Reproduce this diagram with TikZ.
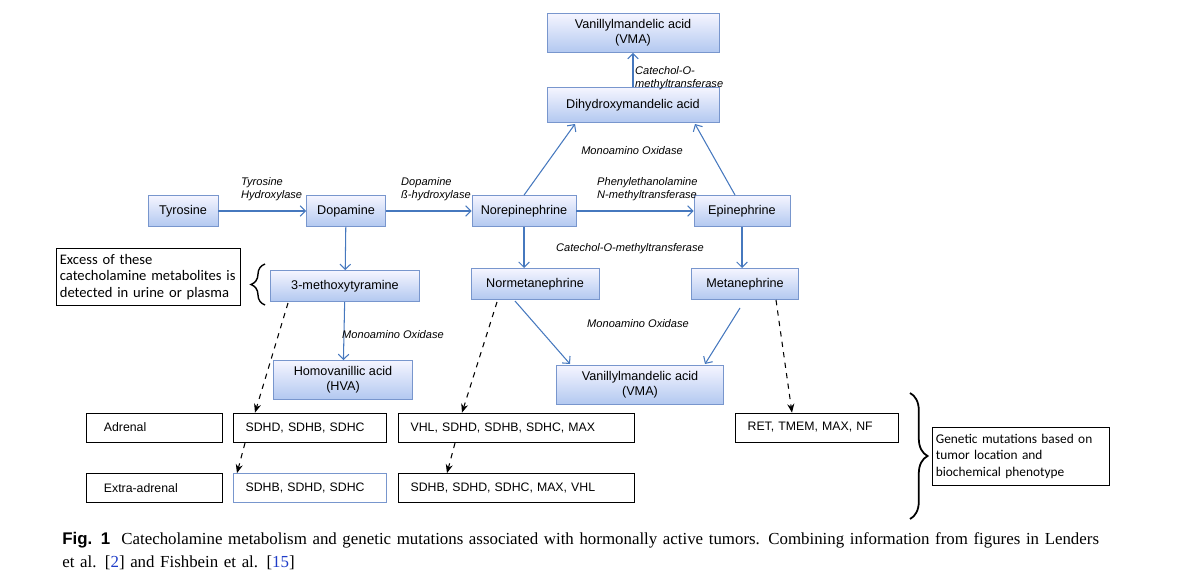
\documentclass[tikz,border=0pt]{standalone}
\usepackage{fontspec}
\setmainfont{Liberation Sans}
\newfontfamily\capf{Liberation Serif}
\newfontfamily\calf{Carlito}
\usetikzlibrary{arrows.meta,decorations.pathreplacing}
\definecolor{bord}{RGB}{120,150,205}
\definecolor{arr}{RGB}{70,120,190}
\definecolor{refb}{RGB}{30,60,200}
\begin{document}
\begin{tikzpicture}[x=0.02cm,y=-0.02cm,
 bx/.style={draw=bord,top color=blue!4,bottom color={rgb,255:red,178;green,200;blue,240},minimum height=0.62cm,font=\fontsize{7.2}{8.5}\selectfont,align=center,inner sep=1pt},
 wb/.style={draw=black,fill=white,minimum height=0.58cm,font=\fontsize{7}{8}\selectfont,anchor=west,inner xsep=0pt,inner ysep=1pt,text width=#1,align=left},
 ar/.style={draw=arr,-{Straight Barb[length=3pt,width=6pt]},line width=0.6pt},
 da/.style={dashed,-{Stealth[length=5pt,width=4pt]},line width=0.6pt},
 lb/.style={font=\fontsize{6.3}{7.3}\selectfont\itshape,align=left}]
\useasboundingbox (0,0) rectangle (1200,581);
\node[bx,minimum width=3.44cm,minimum height=0.78cm] (vma) at (633,33) {Vanillylmandelic acid\\(VMA)};
\node[bx,minimum width=3.44cm,minimum height=0.7cm] (dhm) at (633,105) {Dihydroxymandelic acid};
\node[bx,minimum width=1.4cm] (tyr) at (183,211) {Tyrosine};
\node[bx,minimum width=1.58cm] (dop) at (346,211) {Dopamine};
\node[bx,minimum width=2.08cm] (nor) at (524,211) {Norepinephrine};
\node[bx,minimum width=1.92cm] (epi) at (742,211) {Epinephrine};
\node[bx,minimum width=2.98cm] (mt) at (345,286) {3-methoxytyramine};
\node[bx,minimum width=2.56cm] (nmt) at (535,284) {Normetanephrine};
\node[bx,minimum width=2.14cm] (met) at (745,284) {Metanephrine};
\node[bx,minimum width=2.78cm,minimum height=0.78cm] (hva) at (343,380) {Homovanillic acid\\(HVA)};
\node[bx,minimum width=3.34cm,minimum height=0.78cm] (vma2) at (640,385) {Vanillylmandelic acid\\(VMA)};
\draw[ar] (tyr) -- (dop);
\draw[ar] (dop) -- (nor);
\draw[ar] (nor) -- (epi);
\draw[ar] (dhm) -- (vma);
\draw[ar] (nor.north) -- (575,124);
\draw[ar] (735,195) -- (695,124);
\draw[ar] (dop) -- (mt);
\draw[ar] (nor.south) -- (524,268);
\draw[ar] (epi) -- (742,268);
\draw[ar] (mt) -- (hva);
\draw[ar] (515,301) -- (570,364);
\draw[ar] (740,308) -- (705,364);
\node[lb,anchor=south west] at (235,207) {Tyrosine\\Hydroxylase};
\node[lb,anchor=south west] at (395,207) {Dopamine\\ß-hydroxylase};
\node[lb,anchor=south west] at (591,207) {Phenylethanolamine\\N-methyltransferase};
\node[lb,anchor=west] at (629,78) {Catechol-O-\\methyltransferase};
\node[lb] at (632,151) {Monoamino Oxidase};
\node[lb] at (630,249) {Catechol-O-methyltransferase};
\node[lb] at (393,335) {Monoamino Oxidase};
\node[lb] at (638,324) {Monoamino Oxidase};
\node[draw=black,fill=white,minimum width=3.68cm,minimum height=1.14cm,font=\calf\fontsize{8.3}{9.5}\selectfont,align=left,anchor=north west,inner sep=2pt,text width=3.55cm] (ex) at (56,248) {Excess of these\\catecholamine metabolites is\\detected in urine or plasma};
\draw[line width=0.8pt,decorate,decoration={brace,amplitude=8pt}] (265,305) -- (265,264);
\node[wb=2.72cm] (adr) at (86,427.5) {\hspace{10pt}Adrenal};
\node[wb=2.72cm] (ext) at (86,488) {\hspace{10pt}Extra-adrenal};
\node[wb=3.06cm] (s1) at (233,427.5) {\hspace{7pt}SDHD, SDHB, SDHC};
\node[wb=3.06cm,draw=bord] (s2) at (233,488) {\hspace{7pt}SDHB, SDHD, SDHC};
\node[wb=4.72cm] (v1) at (398,427.5) {\hspace{7pt}VHL, SDHD, SDHB, SDHC, MAX};
\node[wb=4.72cm] (v2) at (398,488) {\hspace{7pt}SDHB, SDHD, SDHC, MAX, VHL};
\node[wb=3.26cm] (r1) at (735,427.5) {\hspace{7pt}RET, TMEM, MAX, NF};
\node[draw=black,fill=white,minimum width=3.5cm,minimum height=1.16cm,font=\calf\fontsize{7.6}{9.2}\selectfont,align=left,anchor=north west,inner sep=2pt,text width=3.4cm] (gm) at (932,427) {Genetic mutations based on\\tumor location and\\biochemical phenotype};
\draw[line width=1pt,decorate,decoration={brace,amplitude=10pt}] (910,393) -- (910,519);
\draw[da] (288,303) -- (s1.north -| 255,0);
\draw[da] (245,443) -- (s2.north -| 237,0);
\draw[da] (497,302) -- (v1.north -| 462,0);
\draw[da] (455,443) -- (v2.north -| 447,0);
\draw[da] (776,300) -- (r1.north -| 792,0);
\node[anchor=west,font=\capf\fontsize{9.6}{13}\selectfont,align=left,text width=21cm,inner sep=0] at (62,551) {{\bfseries\fontspec{Liberation Sans}Fig. 1}\ \ Catecholamine metabolism and genetic mutations associated with hormonally active tumors. Combining information from figures in Lenders et al. [\textcolor{refb}{2}] and Fishbein et al. [\textcolor{refb}{15}]};
\end{tikzpicture}
\end{document}
